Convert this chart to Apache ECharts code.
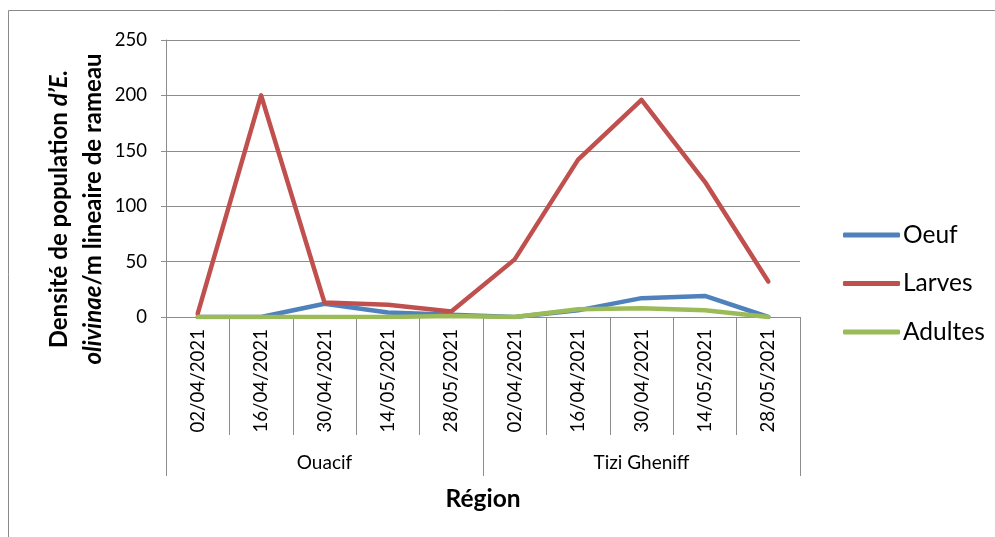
<!DOCTYPE html>
<html>
<head>
<meta charset="utf-8">
<script src="https://cdn.jsdelivr.net/npm/echarts@6/dist/echarts.min.js"></script>
<style>html,body{margin:0;padding:0;background:#fff}#c{width:995px;height:537px}</style>
</head>
<body>
<div id="c"></div>
<script>
const dates = ['02/04/2021','16/04/2021','30/04/2021','14/05/2021','28/05/2021',
               '02/04/2021','16/04/2021','30/04/2021','14/05/2021','28/05/2021'];
const regions = ['Ouacif','Tizi Gheniff'];
const seriesNames = ['Oeuf','Larves','Adultes'];
const oeuf    = [0, 0, 12, 4, 2, 0, 6, 17, 19, 0];
const larves  = [3, 200, 13, 11, 5, 52, 142, 196, 122, 32];
const adultes = [0, 0, 0, 0, 1, 0, 7, 8, 6, 0];
const yTicks = {min: 0, max: 250, interval: 50};
const yTitleLines = ['{b|Densité de population }{bi|d\u2019E.}', '{bi|olivinae}{b|/m lineaire de rameau}'];
const colors = ['#4F81BD','#C0504D','#9BBB59'];

const FONT = 'Lato, "Open Sans", sans-serif';
const GRID = '#8c8c8c';
const richTitle = {
  b: {fontFamily: FONT, fontSize: 24, fontWeight: 'bold', fill: '#000'},
  bi: {fontFamily: FONT, fontSize: 24, fontWeight: 'bold', fontStyle: 'italic', fill: '#000'}
};
const chart = echarts.init(document.getElementById('c'), null, {renderer: 'canvas'});
const mk = (name, data, i) => ({
  name, type: 'line', data, symbol: 'none', smooth: false,
  lineStyle: {color: colors[i], width: 4.5, cap: 'round', join: 'round'},
  itemStyle: {color: colors[i]}, z: 2 + i
});
chart.setOption({
  animation: false,
  color: colors,
  graphic: [
    {type: 'rect', shape: {x: 8.5, y: 10.5, width: 1000, height: 540},
     style: {fill: 'none', stroke: '#8a8a8a', lineWidth: 1}, silent: true},
    {type: 'text', x: 59, y: 209, rotation: Math.PI / 2, silent: true,
     style: {text: yTitleLines[0], rich: richTitle, align: 'center', verticalAlign: 'middle'}},
    {type: 'text', x: 93, y: 209, rotation: Math.PI / 2, silent: true,
     style: {text: yTitleLines[1], rich: richTitle, align: 'center', verticalAlign: 'middle'}}
  ],
  grid: {left: 166, right: 195, top: 40, bottom: 220, containLabel: false},
  legend: {
    orient: 'vertical', left: 838, top: 216, itemGap: 20.5,
    itemWidth: 57, itemHeight: 5, icon: 'roundRect',
    data: seriesNames,
    textStyle: {fontFamily: FONT, fontSize: 24.5, color: '#000', lineHeight: 28, padding: [0,0,0,-2]}
  },
  xAxis: [{
    type: 'category', data: dates, boundaryGap: true, position: 'bottom',
    axisLine: {show: true, lineStyle: {color: GRID, width: 1}},
    axisTick: {show: true, interval: 0, length: 118, lineStyle: {color: GRID, width: 1}},
    axisLabel: {interval: 0, rotate: 90, margin: 12, fontFamily: FONT, fontSize: 18.7, color: '#000'},
    splitLine: {show: false}
  }, {
    type: 'category', data: regions, boundaryGap: true, position: 'bottom', offset: 118,
    axisLine: {show: false},
    axisTick: {show: true, interval: 0, length: 41, lineStyle: {color: GRID, width: 1}},
    axisLabel: {interval: 0, margin: 18, fontFamily: FONT, fontSize: 19, color: '#000'},
    name: 'Région', nameLocation: 'middle', nameGap: 52,
    nameTextStyle: {fontFamily: FONT, fontSize: 24.5, fontWeight: 'bold', color: '#000'}
  }],
  yAxis: {
    type: 'value', min: yTicks.min, max: yTicks.max, interval: yTicks.interval,
    axisLine: {show: true, lineStyle: {color: GRID, width: 1}},
    axisTick: {show: true, length: 5, lineStyle: {color: GRID, width: 1}},
    axisLabel: {margin: 19, fontFamily: FONT, fontSize: 18.5, color: '#000'},
    splitLine: {show: true, lineStyle: {color: GRID, width: 1}}
  },
  series: [mk(seriesNames[0], oeuf, 0), mk(seriesNames[1], larves, 1), mk(seriesNames[2], adultes, 2)]
});
</script>
</body>
</html>
